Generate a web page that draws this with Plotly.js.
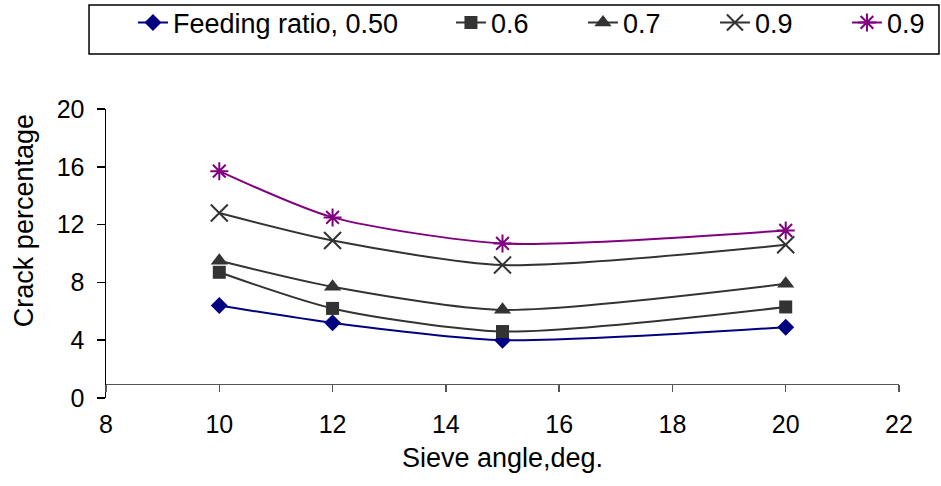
<!DOCTYPE html>
<html>
<head>
<meta charset="utf-8">
<script src="https://cdn.plot.ly/plotly-3.0.1.min.js"></script>
<style>
  html, body { margin: 0; padding: 0; background: #fff; }
  #chart { width: 941px; height: 486px; }
</style>
</head>
<body>
<div id="chart"></div>
<script>
// ---- data ----
const sieveAngle = [10, 12, 15, 20];
const ratio050   = [6.4, 5.2, 4.0, 4.9];
const ratio06    = [8.7, 6.2, 4.6, 6.3];
const ratio07    = [9.5, 7.7, 6.1, 7.9];
const ratio09a   = [12.8, 10.9, 9.2, 10.6];
const ratio09b   = [15.7, 12.5, 10.7, 11.6];
const seriesNames = ['Feeding ratio, 0.50', '0.6', '0.7', '0.9', '0.9'];
const xTickVals = [8, 10, 12, 14, 16, 18, 20, 22];
const yTickVals = [0, 4, 8, 12, 16, 20];
const xTitle = 'Sieve angle,deg.';
const yTitle = 'Crack percentage';

const FONT = '"Liberation Sans", Arial, sans-serif';
const NAVY = '#000080', GREY = '#333333', PURPLE = '#800080';

function series(y, name, color, symbol, size, legend, open) {
  return {
    x: sieveAngle, y: y, name: name, type: 'scatter', mode: 'lines+markers',
    legend: legend,
    line: { color: color, width: 2, shape: 'spline', smoothing: 0.7 },
    marker: open
      ? { symbol: symbol, size: size, color: color, line: { color: color, width: 2 } }
      : { symbol: symbol, size: size, color: color, line: { width: 0 } }
  };
}

const data = [
  series(ratio050, seriesNames[0], NAVY,   'diamond',       13, 'legend',  false),
  series(ratio06,  seriesNames[1], GREY,   'square',        13, 'legend2', false),
  series(ratio07,  seriesNames[2], GREY,   'triangle-up',   15, 'legend2', false),
  series(ratio09a, seriesNames[3], GREY,   'x-thin-open',   17, 'legend2', true),
  series(ratio09b, seriesNames[4], PURPLE, 'asterisk-open', 15, 'legend2', true)
];

const layout = {
  width: 941, height: 486,
  margin: { l: 106, r: 42, t: 109, b: 88, autoexpand: false },
  paper_bgcolor: '#fff', plot_bgcolor: '#fff',
  font: { family: FONT, size: 25, color: '#000' },
  showlegend: true,
  xaxis: {
    range: [8, 22], tickvals: xTickVals, ticktext: xTickVals.map(String),
    anchor: 'free', position: 0.05,
    showgrid: false, zeroline: false,
    showline: true, linecolor: '#555', linewidth: 1.5,
    ticks: 'outside', ticklen: 7, tickcolor: '#555', tickwidth: 1.5,
    ticklabelstandoff: 11,
    tickfont: { family: FONT, size: 25, color: '#000' },
    title: { text: xTitle, font: { family: FONT, size: 27, color: '#000' }, standoff: 11 }
  },
  yaxis: {
    range: [0, 20], tickvals: yTickVals, ticktext: yTickVals.map(String),
    showgrid: false, zeroline: false,
    showline: true, linecolor: '#000', linewidth: 1.5,
    ticks: 'outside', ticklen: 8, tickcolor: '#000', tickwidth: 1.5,
    ticklabelstandoff: 7,
    tickfont: { family: FONT, size: 25, color: '#000' }
  },
  legend: {
    orientation: 'h', x: 0.034, xanchor: 'left', y: 1.298, yanchor: 'middle',
    bgcolor: 'rgba(0,0,0,0)', borderwidth: 0,
    font: { family: FONT, size: 27, color: '#000' }
  },
  legend2: {
    orientation: 'h', x: 0.435, xanchor: 'left', y: 1.298, yanchor: 'middle',
    bgcolor: 'rgba(0,0,0,0)', borderwidth: 0,
    entrywidth: 87, entrywidthmode: 'pixels',
    font: { family: FONT, size: 27, color: '#000' }
  },
  shapes: [{
    type: 'rect', xref: 'paper', yref: 'paper',
    x0: -0.0214, x1: 1.0504, y0: 1.1903, y1: 1.3599,
    line: { color: '#000', width: 1.5 }, fillcolor: 'rgba(0,0,0,0)'
  }],
  annotations: [{
    text: yTitle, textangle: -90, xref: 'paper', yref: 'paper',
    x: -0.1034, y: 0.612, xanchor: 'center', yanchor: 'middle', showarrow: false,
    font: { family: FONT, size: 27, color: '#000' }
  }]
};

Plotly.newPlot('chart', data, layout, { displayModeBar: false, staticPlot: true });
</script>
</body>
</html>
